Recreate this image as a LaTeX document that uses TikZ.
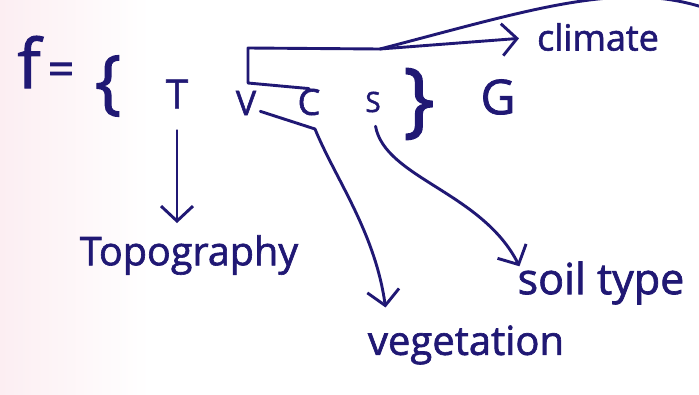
\documentclass[tikz,border=0pt]{standalone}
\usepackage{fontspec}
\setmainfont{Open Sans}[FakeBold=1.6]
\usetikzlibrary{arrows.meta}
\definecolor{ink}{RGB}{32,24,116}
\definecolor{paperpink}{RGB}{252,238,242}
\newcommand{\fs}[1]{\fontsize{#1}{#1}\selectfont}
\tikzset{
  txt/.style={inner sep=0pt, text=ink},
  pen/.style={draw=ink, line width=2.9pt, line cap=round, line join=round},
  arr/.style={pen, -{Straight Barb[length=15pt,width=32pt,line width=2.9pt]}},
}
\begin{document}
\begin{tikzpicture}[x=1pt,y=-1pt]
  \useasboundingbox (0,0) rectangle (699,394);
  \clip (0,0) rectangle (699,394);
  % paper, slightly tinted at the left edge
  \fill[white] (0,0) rectangle (699,394);
  \shade[left color=paperpink, right color=white] (0,0) rectangle (150,394);

  % the formula
  \node[txt, font=\fs{68}] (f) at (29,62) {f};
  \node[txt, font=\fs{46}] (eq) at (61,74) {=};
  \node[txt, font=\fs{70}] (lb) at (108,86) {\{};
  \node[txt, font=\fs{40}] (T) at (177,94) {T};
  \node[txt, font=\fs{34}] (V) at (246,103) {V};
  \node[txt, font=\fs{36}] (C) at (309,102) {C};
  \node[txt, font=\fs{28}] (S) at (373,102) {S};
  \node[txt, font=\fs{82}] (rb) at (419,104) {\}};
  \node[txt, font=\fs{48}] (G) at (498,97) {G};

  % the factor names
  \node[txt, font=\fs{36}] (climate) at (598,37) {climate};
  \node[txt, font=\fs{39.5}] (topo) at (189,255) {Topography};
  \node[txt, font=\fs{40}] (veg) at (466,345) {vegetation};
  \node[txt, font=\fs{43}] (soil) at (601,283) {soil type};

  % bracket round V and C, leading off to climate
  \coordinate (bl) at (248,83);
  \coordinate (tl) at (248,48);
  \coordinate (j) at (380,49);
  \draw[pen] (C.north) -- (bl) -- (tl) -- (j);
  \draw[arr, shorten >=18pt] (j) -- (climate.west);
  \draw[pen] (j) .. controls (530,10) and (620,-20) .. (705,8);

  % T down to Topography
  \draw[arr, shorten <=22pt, shorten >=12pt] (T.south) -- (topo.north -| T.south);

  % line under V and C, then down to vegetation
  \coordinate (vu) at (315,129);
  \draw[pen] ([xshift=4pt,yshift=4pt]V.south east) -- (vu);
  \draw[arr, shorten >=18pt] (vu) .. controls (335,178) and (375,232) .. (veg.north -| 388,0);

  % S down to soil type
  \draw[arr, shorten <=14pt] (S.south) .. controls (385,178) and (482,192) .. ([xshift=2pt,yshift=-5pt]soil.north west);
\end{tikzpicture}
\end{document}
